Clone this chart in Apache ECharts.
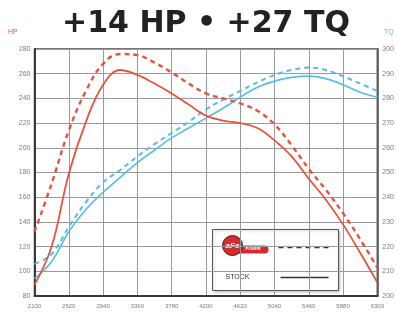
<!DOCTYPE html>
<html>
<head>
<meta charset="utf-8">
<script src="https://cdn.jsdelivr.net/npm/echarts@6/dist/echarts.min.js"></script>
<style>
  html, body { margin: 0; padding: 0; background: #fff; }
  #chart { width: 397px; height: 314px; }
</style>
</head>
<body>
<div id="chart"></div>
<script>
// engine speed (rpm)
const rpm = [2100, 2310, 2520, 2730, 2940, 3150, 3360, 3570, 3780, 3990, 4200,
             4410, 4620, 4830, 5040, 5250, 5460, 5670, 5880, 6090, 6300];

// horsepower, left axis
const stockHp = [89, 120, 179, 221, 251, 263, 259, 252, 244, 235, 226,
                 222, 220, 216, 206, 193, 175, 158, 138, 115, 91];
const afeHp = [132, 171, 214, 246, 268, 276, 275, 269, 261, 252, 244,
               240, 236, 230, 219, 202, 183, 166, 147, 126, 103];

// torque, right axis
const stockTq = [207, 214, 226, 235, 242, 248, 254, 259, 264, 268, 272,
                 276, 280.5, 284.5, 287, 288.5, 289, 288, 285.5, 282.5, 280.5];
const afeTq = [213, 217, 228, 238, 246, 251, 256.5, 261.5, 266, 270.5, 275.5,
               279.5, 283, 286.5, 289.5, 291.5, 292.5, 291.5, 289, 286, 283];

const red = '#e5543d';
const blue = '#56bde5';
const labelStyle = { color: '#7d7d7d', fontSize: 7, fontFamily: 'Liberation Sans, sans-serif' };

const chart = echarts.init(document.getElementById('chart'));

const pair = (xs, ys) => xs.map((x, i) => [x, ys[i]]);

chart.setOption({
  backgroundColor: '#fff',
  animation: false,
  grid: {
    left: 34.5, right: 18.5, top: 49, bottom: 18,
    show: true, borderColor: '#4a4a4a', borderWidth: 1.5
  },
  xAxis: {
    type: 'value', min: 2100, max: 6300, interval: 420,
    axisLine: { show: true, lineStyle: { color: '#3a3a3a', width: 2 } },
    axisTick: { show: false },
    axisLabel: Object.assign({}, labelStyle, { margin: 7, fontSize: 6, formatter: (v) => String(v) }),
    splitLine: { show: true, lineStyle: { color: '#9a9a9a', width: 1 } }
  },
  yAxis: [
    {
      type: 'value', min: 80, max: 280, interval: 20, position: 'left',
      axisLine: { show: true, lineStyle: { color: '#3a3a3a', width: 2 } },
      axisTick: { show: false },
      axisLabel: Object.assign({ margin: 4 }, labelStyle),
      splitLine: { show: true, lineStyle: { color: '#9a9a9a', width: 1 } }
    },
    {
      type: 'value', min: 200, max: 300, interval: 10, position: 'right',
      axisLine: { show: true, lineStyle: { color: '#4a4a4a', width: 1.5 } },
      axisTick: { show: false },
      axisLabel: Object.assign({ margin: 5 }, labelStyle),
      splitLine: { show: false }
    }
  ],
  series: [
    {
      name: 'Stock TQ', type: 'line', yAxisIndex: 1, smooth: 0.4, symbol: 'none',
      data: pair(rpm, stockTq),
      lineStyle: { color: blue, width: 1.6 }
    },
    {
      name: 'aFe TQ', type: 'line', yAxisIndex: 1, smooth: 0.4, symbol: 'none',
      data: pair(rpm, afeTq),
      lineStyle: { color: blue, width: 2, type: [5, 4] }
    },
    {
      name: 'Stock HP', type: 'line', yAxisIndex: 0, smooth: 0.4, symbol: 'none',
      data: pair(rpm, stockHp),
      lineStyle: { color: red, width: 1.8 }
    },
    {
      name: 'aFe HP', type: 'line', yAxisIndex: 0, smooth: 0.4, symbol: 'none',
      data: pair(rpm, afeHp),
      lineStyle: { color: red, width: 2.4, type: [5, 4] }
    }
  ],
  graphic: [
    {
      type: 'text', x: 206, y: 24,
      style: {
        text: '+14 HP • +27 TQ', fill: '#222',
        font: 'bold 30px "DejaVu Sans", sans-serif',
        align: 'center', verticalAlign: 'middle'
      }
    },
    {
      type: 'text', left: 8, top: 29,
      style: { text: 'HP', fill: red, font: '7px "Liberation Sans", sans-serif' }
    },
    {
      type: 'text', left: 384, top: 29,
      style: { text: 'TQ', fill: blue, font: '7px "Liberation Sans", sans-serif' }
    },
    // legend box
    {
      type: 'group', left: 212, top: 229,
      children: [
        {
          type: 'rect', shape: { x: 0, y: 0, width: 126, height: 61 },
          style: { fill: '#fff', stroke: '#555', lineWidth: 1,
                   shadowColor: 'rgba(0,0,0,0.25)', shadowBlur: 3, shadowOffsetX: 1, shadowOffsetY: 1 }
        },
        {
          type: 'rect', shape: { x: 22, y: 16, width: 34, height: 8, r: 4 },
          style: { fill: '#d82a2e' }
        },
        {
          type: 'text', x: 33, y: 17,
          style: { text: 'POWER', fill: '#fff', font: 'bold 4px "Liberation Sans", sans-serif' }
        },
        {
          type: 'circle', shape: { cx: 20, cy: 16, r: 10 },
          style: { fill: '#d82a2e', stroke: '#5a1010', lineWidth: 1 }
        },
        {
          type: 'text', x: 20, y: 16,
          style: { text: 'aFe', fill: '#fff', font: 'bold italic 8px "Liberation Sans", sans-serif',
                   align: 'center', verticalAlign: 'middle' }
        },
        {
          type: 'line', shape: { x1: 66, y1: 18, x2: 118, y2: 18 },
          style: { stroke: '#333', lineWidth: 1.4, lineDash: [5, 4] }
        },
        {
          type: 'text', x: 13, y: 48,
          style: { text: 'STOCK', fill: '#333', font: '7px "Liberation Sans", sans-serif',
                   verticalAlign: 'middle' }
        },
        {
          type: 'line', shape: { x1: 68, y1: 48, x2: 116, y2: 48 },
          style: { stroke: '#333', lineWidth: 1.4 }
        }
      ]
    }
  ]
});
</script>
</body>
</html>
